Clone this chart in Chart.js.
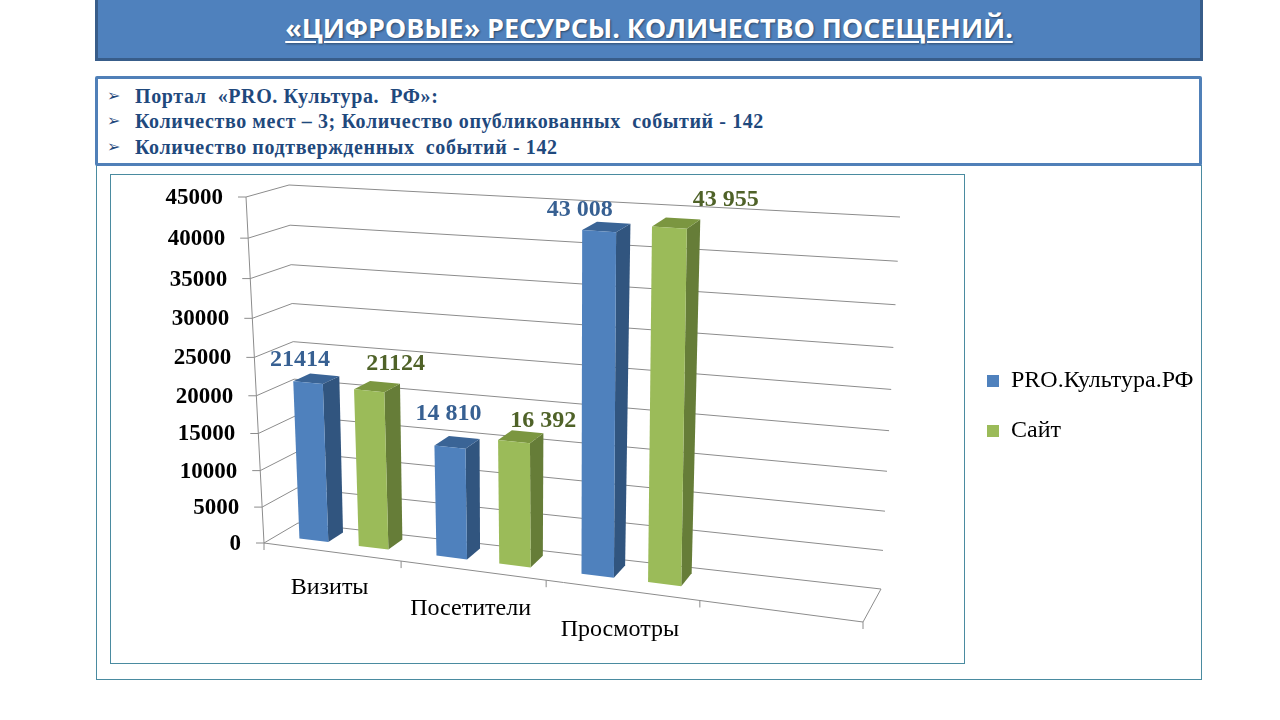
<!DOCTYPE html>
<html lang="ru">
<head>
<meta charset="utf-8">
<title>Цифровые ресурсы</title>
<script src="https://cdn.jsdelivr.net/npm/chart.js@4/dist/chart.umd.js"></script>
<style>
    html, body { margin: 0; padding: 0; background: #fff; width: 1280px; height: 720px; overflow: hidden; }
    div { position: absolute; box-sizing: border-box; }
    #title { left: 95px; top: -3px; width: 1108px; height: 64px; background: #4f81bd; border: 3px solid #385d8a;
        color: #fff; font: bold 27px "Open Sans", sans-serif; letter-spacing: -0.1px; text-align: center; line-height: 55px;
        text-decoration: underline; text-decoration-thickness: 2px; text-underline-offset: 3px;
        text-shadow: 1px 1px 2px rgba(0,0,0,.45); }
    #info { left: 95px; top: 76px; width: 1107px; height: 90px; background: #fff; border: 3px solid #5080b8; border-radius: 2px; }
    .line { left: 37px; color: #1f497d; font: bold 20px "Liberation Serif", serif; letter-spacing: 0.6px; white-space: pre; line-height: 26px; }
    .bullet { left: 9px; color: #1f497d; font: 16px "DejaVu Sans", sans-serif; line-height: 26px; }
    #outer { left: 96px; top: 165px; width: 1106px; height: 515px; border: 1px solid #4a8ba0; }
    #inner { left: 110px; top: 174px; width: 855px; height: 490px; border: 1px solid #4a8ba0; }
    canvas { position: absolute; left: 0; top: 0; }
</style>
</head>
<body>
<div id="outer"></div>
<div id="inner"></div>
<div id="title">«ЦИФРОВЫЕ» РЕСУРСЫ. КОЛИЧЕСТВО ПОСЕЩЕНИЙ.</div>
<div id="info">
    <div class="bullet" style="top:4px">➢</div><div class="line" style="top:4px">Портал  «PRO. Культура.  РФ»:</div>
    <div class="bullet" style="top:29px">➢</div><div class="line" style="top:29px">Количество мест – 3; Количество опубликованных  событий - 142</div>
    <div class="bullet" style="top:55px">➢</div><div class="line" style="top:55px">Количество подтвержденных  событий - 142</div>
</div>
<canvas id="chart" width="1280" height="720"></canvas>
<script>
var categories = ['Визиты', 'Посетители', 'Просмотры', ''];
var portalValues = [21414, 14810, 43008, null];
var siteValues = [21124, 16392, 43955, null];
var portalLabels = ['21414', '14 810', '43 008'];
var siteLabels = ['21124', '16 392', '43 955'];

var SERIF = '"Liberation Serif", serif';
var GRID = '#8c8c8c';
var faces = [
    { front: '#4f81bd', side: '#31557f', top: '#3a6496', label: '#376092' },
    { front: '#9bbb59', side: '#667d38', top: '#7b9640', label: '#4f6228' }
];
// the labels were dragged around by hand in the original, so each one has its own nudge
var labelNudge = [
    [[-17, -19], [-9, -28], [-27, -17]],
    [[18, -22], [22, -16], [49, -23]]
];

// corners of the 3d box: [x, y] by front/back, bottom/top, left/right
var box = {
    fbl: [264, 543], fbr: [863, 622], ftl: [246, 197], ftr: [876, 241],
    bbl: [298, 523], bbr: [881, 589], btl: [289, 185], btr: [900, 217]
};
var barFront = 0.37, barBack = 0.82, foreshortenU = 1.123, foreshortenV = 1.08;

function mix(a, b, t) {
    return [a[0] + (b[0] - a[0]) * t, a[1] + (b[1] - a[1]) * t];
}

function warp(t, k) {
    return t / (t + k * (1 - t));
}

function project(u, v, d) {
    var w = warp(u, foreshortenU);
    var bottom = mix(mix(box.fbl, box.fbr, w), mix(box.bbl, box.bbr, w), d);
    var top = mix(mix(box.ftl, box.ftr, w), mix(box.btl, box.btr, w), d);
    return mix(bottom, top, warp(v, foreshortenV));
}

function poly(ctx, pts, color) {
    ctx.beginPath();
    ctx.moveTo(pts[0][0], pts[0][1]);
    for (var i = 1; i < pts.length; i++) {
        ctx.lineTo(pts[i][0], pts[i][1]);
    }
    ctx.closePath();
    ctx.fillStyle = color;
    ctx.fill();
}

function stroke(ctx, pts) {
    ctx.beginPath();
    ctx.moveTo(pts[0][0], pts[0][1]);
    for (var i = 1; i < pts.length; i++) {
        ctx.lineTo(pts[i][0], pts[i][1]);
    }
    ctx.stroke();
}

var box3d = {
    id: 'box3d',
    afterLayout: function(chart) {
        // legend sits lower than the plot centre and further left than the default
        chart.legend.top += 36;
        chart.legend.bottom += 36;
        chart.legend.left = 961;
    },
    beforeDatasetDraw: function() {
        return false;
    },
    beforeDatasetsDraw: function(chart) {
        var ctx = chart.ctx, y = chart.scales.y, x = chart.scales.x, area = chart.chartArea;
        ctx.save();
        ctx.strokeStyle = GRID;
        ctx.lineWidth = 1;
        ctx.font = 'bold 23px ' + SERIF;
        ctx.textAlign = 'right';
        ctx.textBaseline = 'middle';
        ctx.fillStyle = '#000';
        y.ticks.forEach(function(tick, i) {
            var v = (area.bottom - y.getPixelForTick(i)) / area.height;
            var front = project(0, v, 0);
            stroke(ctx, [[front[0] - 8, front[1]], front, project(0, v, 1), project(1, v, 1)]);
            ctx.fillText(tick.label, front[0] - 23, front[1] + 1);
        });
        stroke(ctx, [project(0, 0, 0), project(0, 1, 0)]);
        stroke(ctx, [project(0, 0, 0), project(1, 0, 0), project(1, 0, 1)]);
        var n = chart.data.labels.length;
        for (var i = 0; i <= n; i++) {
            var p = project(i / n, 0, 0);
            stroke(ctx, [p, [p[0], p[1] + 7]]);
        }
        ctx.font = '24px ' + SERIF;
        ctx.textAlign = 'center';
        chart.data.labels.forEach(function(label, i) {
            var p = project((x.getPixelForValue(i) - area.left) / area.width, 0, 0);
            ctx.fillText(label, p[0] - 2, p[1] + 36 + i * 2);
        });
        ctx.restore();
    },
    afterDatasetsDraw: function(chart) {
        var ctx = chart.ctx, area = chart.chartArea;
        ctx.save();
        ctx.font = 'bold 24px ' + SERIF;
        ctx.textAlign = 'center';
        ctx.textBaseline = 'middle';
        chart.data.datasets.forEach(function(dataset, s) {
            chart.getDatasetMeta(s).data.forEach(function(bar, i) {
                if (dataset.data[i] === null) {
                    return;
                }
                var u0 = (bar.x - bar.width / 2 - area.left) / area.width;
                var u1 = (bar.x + bar.width / 2 - area.left) / area.width;
                var v = (area.bottom - bar.y) / area.height;
                poly(ctx, [project(u1, v, barFront), project(u1, v, barBack), project(u1, 0, barBack), project(u1, 0, barFront)], faces[s].side);
                poly(ctx, [project(u0, v, barFront), project(u1, v, barFront), project(u1, v, barBack), project(u0, v, barBack)], faces[s].top);
                poly(ctx, [project(u0, v, barFront), project(u1, v, barFront), project(u1, 0, barFront), project(u0, 0, barFront)], faces[s].front);
                var p = project((u0 + u1) / 2, v, 0.61);
                ctx.fillStyle = faces[s].label;
                ctx.fillText(dataset.barLabels[i], p[0] + labelNudge[s][i][0], p[1] + labelNudge[s][i][1]);
            });
        });
        ctx.restore();
    }
};

new Chart('chart', {
    type: 'bar',
    data: {
        labels: categories,
        datasets: [
            { label: 'PRO.Культура.РФ', data: portalValues, barLabels: portalLabels, backgroundColor: faces[0].front, borderWidth: 0, categoryPercentage: 0.88, barPercentage: 0.49 },
            { label: 'Сайт', data: siteValues, barLabels: siteLabels, backgroundColor: faces[1].front, borderWidth: 0, categoryPercentage: 0.88, barPercentage: 0.49 }
        ]
    },
    options: {
        responsive: false,
        animation: false,
        layout: { padding: { left: 246, top: 197, bottom: 177, right: 40 } },
        scales: {
            x: { grid: { display: false }, border: { display: false }, ticks: { display: false } },
            y: {
                min: 0, max: 45000,
                grid: { display: false }, border: { display: false },
                ticks: { display: false, stepSize: 5000, callback: function(value) { return String(value); } }
            }
        },
        plugins: {
            tooltip: { enabled: false },
            legend: {
                position: 'right',
                labels: { boxWidth: 12, boxHeight: 12, padding: 26, color: '#000', font: { family: '"Liberation Serif"', size: 24 } }
            }
        }
    },
    plugins: [box3d]
});
</script>
</body>
</html>
